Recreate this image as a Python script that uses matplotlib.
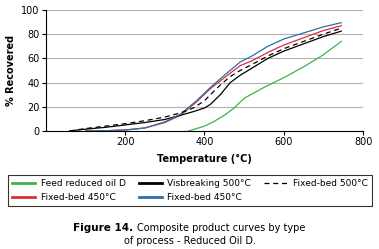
import matplotlib
matplotlib.use("Agg")
import matplotlib.pyplot as plt

# Feed reduced oil D
feed_t = [360, 380, 400, 425, 450, 475, 500, 550, 600, 650, 700, 745]
feed_r = [0, 2, 4, 8, 13, 19, 27, 36, 44, 53, 63, 74]

# Fixed-bed 450 (two runs) share temperatures
fb_t = [100, 150, 200, 250, 300, 340, 380, 415, 450, 490, 520, 560, 600, 650, 700, 745]
fb450_red = [0, 0.2, 0.8, 2.5, 7, 13, 24, 35, 44, 54, 58, 65, 71, 77, 83, 87]
fb450_blue = [0, 0.2, 0.8, 2.5, 7.5, 14, 25, 36, 46, 57, 62, 70, 76, 81, 86, 89.5]

# Visbreaking 500 and fixed-bed 500
vb_t = [60, 100, 150, 200, 250, 300, 340, 372, 400, 415, 440, 465, 490, 520, 560, 600, 650, 700, 745]
vb500 = [0, 1.5, 3, 5, 7, 9.5, 13, 16, 19, 22, 30, 40, 46, 52, 60, 66, 72, 78, 82.5]
fb500 = [0, 2, 4, 6, 8.5, 11.5, 15, 19, 25, 30, 38, 45, 50, 55, 62, 68, 74, 80, 85]

y_ticks = [0, 20, 40, 60, 80, 100]
x_ticks = [200, 400, 600, 800]

plt.rcParams['font.family'] = ['DejaVu Sans']

fig = plt.figure(figsize=(3.79, 2.49), dpi=100)
ax = fig.add_axes([0.121, 0.474, 0.837, 0.486])

lw = 0.9
l_feed, = ax.plot(feed_t, feed_r, color='#3cb44b', lw=lw)
l_red, = ax.plot(fb_t, fb450_red, color='#d62f3a', lw=lw)
l_vb, = ax.plot(vb_t, vb500, color='black', lw=lw)
l_blue, = ax.plot(fb_t, fb450_blue, color='#2f6ea8', lw=lw)
l_fb5, = ax.plot(vb_t, fb500, color='black', lw=lw, ls=(0, (4, 3)))

ax.set_xlim(0, 800)
ax.set_ylim(0, 100)
ax.set_xticks(x_ticks)
ax.set_yticks(y_ticks)
ax.yaxis.grid(True, color='#b0b0b0', lw=0.8)
ax.set_axisbelow(True)
for s in ('top', 'right'):
    ax.spines[s].set_visible(False)
ax.tick_params(labelsize=7, length=3, width=0.8, pad=1.5)
ax.set_xlabel('Temperature (°C)', fontsize=7, fontweight='bold', labelpad=5)
ax.set_ylabel('% Recovered', fontsize=7, fontweight='bold', labelpad=4)

leg = fig.legend([l_feed, l_red, l_vb, l_blue, l_fb5],
                 ['Feed reduced oil D', 'Fixed-bed 450°C', 'Visbreaking 500°C',
                  'Fixed-bed 450°C', 'Fixed-bed 500°C'],
                 ncol=3, loc='lower left', mode='expand',
                 bbox_to_anchor=(0.021, 0.173, 0.96, 0.132),
                 fontsize=6.5, frameon=True, fancybox=False, edgecolor='black',
                 handlelength=2.6, handletextpad=0.6, borderpad=0.45,
                 labelspacing=0.55, columnspacing=0.5, borderaxespad=0)
leg.get_frame().set_linewidth(0.8)
for h in leg.get_lines()[:4]:
    h.set_linewidth(2)

fig.text(0.351, 0.084, 'Figure 14.', ha='right', va='center', fontsize=7.5, fontweight='bold')
fig.text(0.361, 0.084, 'Composite product curves by type', ha='left', va='center', fontsize=7)
fig.text(0.5, 0.032, 'of process - Reduced Oil D.', ha='center', va='center', fontsize=7)

fig.savefig('out.png', dpi=100)
